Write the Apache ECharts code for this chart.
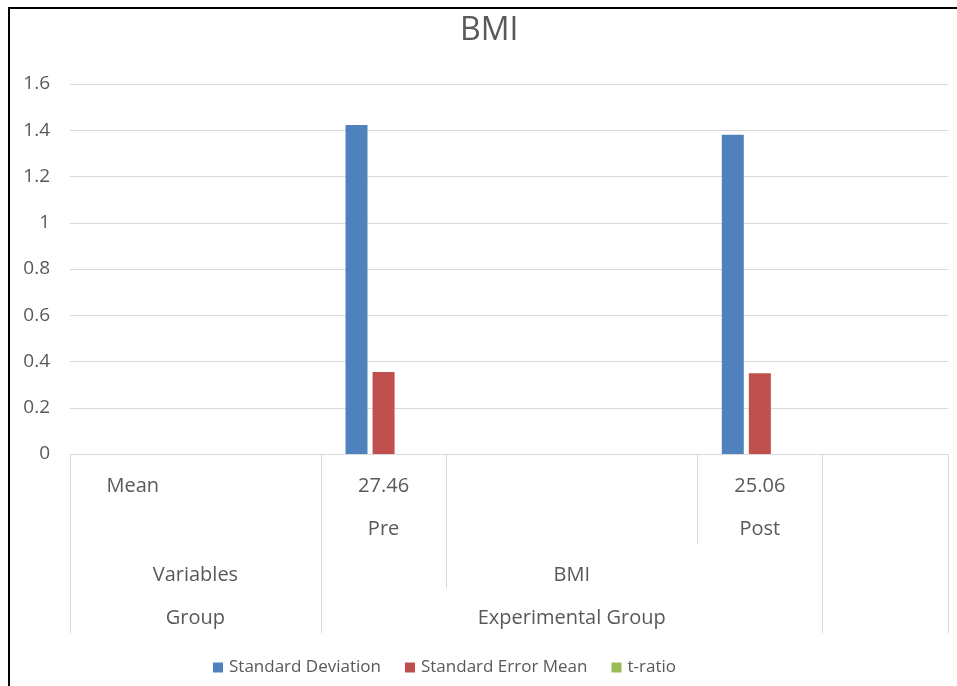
<!DOCTYPE html>
<html>
<head>
<meta charset="utf-8">
<script src="https://cdn.jsdelivr.net/npm/echarts@6/dist/echarts.min.js"></script>
<style>
html,body{margin:0;padding:0;background:#fff;}
#main{width:957px;height:686px;}
</style>
</head>
<body>
<div id="main"></div>
<script>
// row 1 of the category axis (one label per category)
var categories = ['Mean', '', '27.46', '', '', '25.06', ''];
// outer rows of the multi-level axis, positions in category units
var level2Labels = ['Pre', 'Post'];
var level2Pos = [2, 5];
var level3Labels = ['Variables', 'BMI'];
var level3Pos = [0.5, 3.5];
var level4Labels = ['Group', 'Experimental Group'];
var level4Pos = [0.5, 3.5];
// separator lines between groups (category boundaries)
var sepFull = [-0.5, 1.5, 5.5, 6.5];
var sepMid = [2.5];
var sepShort = [4.5];

var stdDev = [null, null, 1.423, null, null, 1.381, null];
var stdErr = [null, null, 0.355, null, null, 0.349, null];
var tRatio = [null, null, null, null, null, null, null];

var txt = '#595959';
var line = '#d9d9d9';
var font = 'Open Sans';

function levelAxis(pos, labels, margin) {
	return {
		type: 'value', min: -0.5, max: 6.5, position: 'bottom',
		axisLine: {show: false}, axisTick: {show: false}, splitLine: {show: false},
		axisLabel: {
			show: true, customValues: pos, margin: margin,
			fontFamily: font, fontSize: 20, color: txt,
			formatter: function (v) {
				var i = pos.indexOf(v);
				return i >= 0 ? labels[i] : '';
			}
		}
	};
}
function sepAxis(vals, len) {
	return {
		type: 'value', min: -0.5, max: 6.5, position: 'bottom',
		axisLine: {show: false}, splitLine: {show: false},
		axisLabel: {show: false},
		axisTick: {show: true, customValues: vals, length: len, lineStyle: {color: line, width: 1}}
	};
}

var chart = echarts.init(document.getElementById('main'));
var option = {
	animation: false,
	backgroundColor: '#fff',
	title: {
		text: 'BMI', left: 455, top: 10,
		textStyle: {fontFamily: font, fontSize: 32, fontWeight: 'normal', color: txt}
	},
	legend: {
		left: 208, top: 654, itemWidth: 10, itemHeight: 10, itemGap: 24,
		icon: 'rect',
		textStyle: {fontFamily: font, fontSize: 17, color: txt, padding: [0, 0, 0, 1]},
		data: ['Standard Deviation', 'Standard Error Mean', 't-ratio']
	},
	grid: {left: 70, right: 9, top: 84, bottom: 232, containLabel: false},
	xAxis: [
		{
			type: 'category', data: categories, position: 'bottom',
			axisLine: {lineStyle: {color: line}},
			axisTick: {show: false},
			axisLabel: {interval: 0, margin: 22, fontFamily: font, fontSize: 20, color: txt}
		},
		levelAxis(level2Pos, level2Labels, 65),
		levelAxis(level3Pos, level3Labels, 111),
		levelAxis(level4Pos, level4Labels, 154),
		sepAxis(sepFull, 179),
		sepAxis(sepMid, 134),
		sepAxis(sepShort, 90)
	],
	yAxis: {
		type: 'value', min: 0, max: 1.6, interval: 0.2,
		axisLine: {show: false}, axisTick: {show: false},
		splitLine: {lineStyle: {color: line}},
		axisLabel: {margin: 20, fontFamily: font, fontSize: 19, color: txt}
	},
	series: [
		{name: 'Standard Deviation', type: 'bar', data: stdDev, barWidth: 22, barGap: '23%', itemStyle: {color: '#4F81BD'}},
		{name: 'Standard Error Mean', type: 'bar', data: stdErr, barWidth: 22, itemStyle: {color: '#C0504D'}},
		{name: 't-ratio', type: 'bar', data: tRatio, barWidth: 22, itemStyle: {color: '#9BBB59'}}
	],
	graphic: [
		{type: 'line', shape: {x1: 9, y1: 8, x2: 9, y2: 686}, style: {stroke: '#000', lineWidth: 2}},
		{type: 'line', shape: {x1: 8, y1: 8, x2: 957, y2: 8}, style: {stroke: '#000', lineWidth: 2}}
	]
};
chart.setOption(option);
</script>
</body>
</html>
